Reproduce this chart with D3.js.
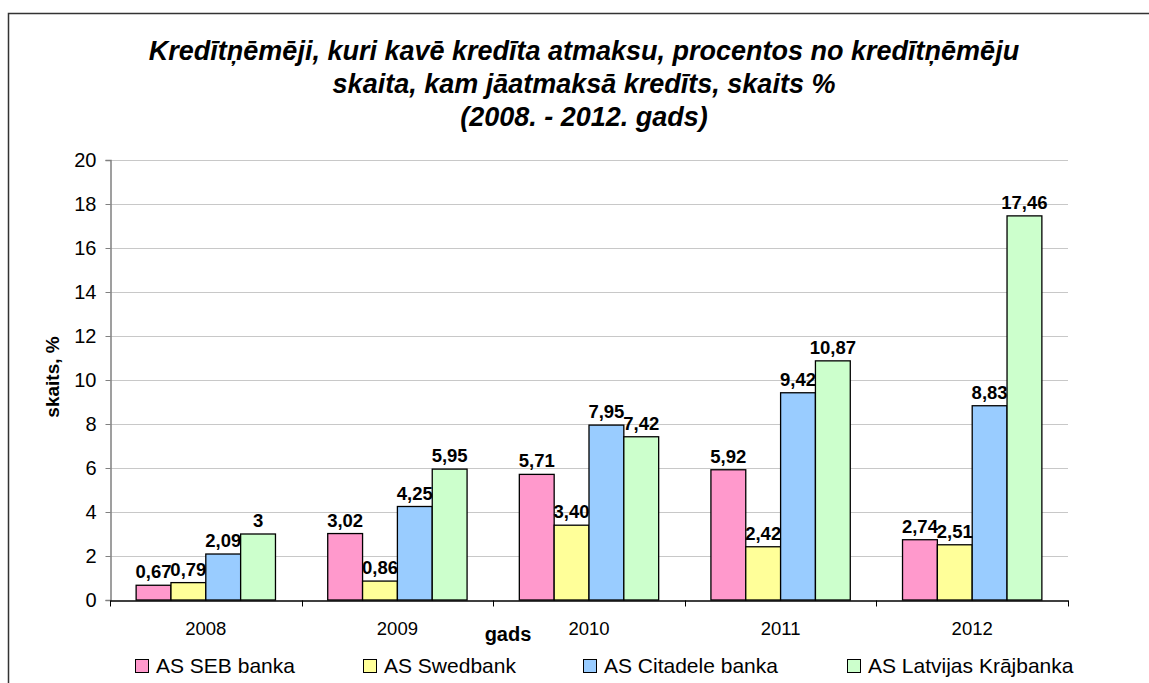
<!DOCTYPE html>
<html>
<head>
<meta charset="utf-8">
<script src="https://cdn.jsdelivr.net/npm/d3@7"></script>
<style>
  body { margin: 0; background: #fff; }
  svg { font-family: Arial, "Liberation Sans", sans-serif; }
</style>
</head>
<body>
<div id="chart"></div>
<script>
const years = ['2008', '2009', '2010', '2011', '2012'];
const banks = ['AS SEB banka', 'AS Swedbank', 'AS Citadele banka', 'AS Latvijas Krājbanka'];
const seb = [0.67, 3.02, 5.71, 5.92, 2.74];
const swedbank = [0.79, 0.86, 3.40, 2.42, 2.51];
const citadele = [2.09, 4.25, 7.95, 9.42, 8.83];
const krajbanka = [3, 5.95, 7.42, 10.87, 17.46];
const yTicks = [0, 2, 4, 6, 8, 10, 12, 14, 16, 18, 20];
const titleLines = [
    'Kredītņēmēji, kuri kavē kredīta atmaksu, procentos no kredītņēmēju',
    'skaita, kam jāatmaksā kredīts, skaits %',
    '(2008. - 2012. gads)'
];

const width = 1149;
const height = 683;
const margin = {top: 160, left: 110, right: 81, bottom: 83};
const colors = ['#ff99cc', '#ffff99', '#99ccff', '#ccffcc'];
const series = [seb, swedbank, citadele, krajbanka];

// label text as in the source: comma decimals, 3 stays "3"
const labelFmt = v => Number.isInteger(v) ? String(v) : d3.format('.2f')(v).replace('.', ',');

const svg = d3.select('#chart')
    .append('svg')
    .attr('width', width)
    .attr('height', height);

// outer frame (clipped at right and bottom)
svg.append('path')
    .attr('d', `M8.5,${height} V13.5 H${width}`)
    .attr('fill', 'none')
    .attr('stroke', '#333')
    .attr('stroke-width', 1.5);

const x0 = d3.scaleBand()
    .domain(years)
    .range([margin.left, width - margin.right])
    .paddingInner(0)
    .paddingOuter(0);

const x1 = d3.scaleBand()
    .domain(d3.range(banks.length))
    .range([0, x0.bandwidth()])
    .paddingOuter(0.75)
    .paddingInner(0);

const y = d3.scaleLinear()
    .domain([0, 20])
    .range([height - margin.bottom, margin.top]);

// gridlines
svg.append('g')
    .selectAll('line')
    .data(yTicks.filter(d => d > 0))
    .enter()
    .append('line')
    .attr('x1', margin.left)
    .attr('x2', width - margin.right)
    .attr('y1', d => Math.round(y(d)) + 0.5)
    .attr('y2', d => Math.round(y(d)) + 0.5)
    .attr('stroke', '#c8c8c8')
    .attr('stroke-width', 1);

// y axis
const yAxis = svg.append('g')
    .attr('transform', `translate(${margin.left + 0.5},0)`)
    .call(d3.axisLeft(y).tickValues(yTicks).tickSize(5).tickPadding(9));
yAxis.attr('font-size', 20);
yAxis.select('.domain').attr('stroke', '#808080').attr('stroke-width', 1.5);
yAxis.selectAll('.tick line').attr('stroke', '#808080');
yAxis.selectAll('text').attr('font-size', 20).attr('fill', '#000');

// bars
const groups = svg.append('g')
    .selectAll('g')
    .data(years)
    .enter()
    .append('g')
    .attr('transform', d => `translate(${x0(d)},0)`);

groups.selectAll('rect')
    .data((d, i) => series.map((s, k) => ({k: k, v: s[i]})))
    .enter()
    .append('rect')
    .attr('x', d => x1(d.k))
    .attr('width', x1.bandwidth())
    .attr('y', d => y(d.v))
    .attr('height', d => y(0) - y(d.v))
    .attr('fill', d => colors[d.k])
    .attr('stroke', '#000')
    .attr('stroke-width', 1.3);

groups.selectAll('text')
    .data((d, i) => series.map((s, k) => ({k: k, v: s[i]})))
    .enter()
    .append('text')
    .attr('x', d => x1(d.k) + x1.bandwidth() / 2)
    .attr('y', d => y(d.v) - 7)
    .attr('text-anchor', 'middle')
    .attr('font-size', 18.5)
    .attr('font-weight', 'bold')
    .text(d => labelFmt(d.v));

// x axis
const xAxis = svg.append('g')
    .attr('transform', `translate(0,${y(0) + 0.5})`)
    .call(d3.axisBottom(x0).tickSize(0).tickPadding(21));
xAxis.attr('font-size', 18.5);
xAxis.select('.domain').attr('stroke', '#000').attr('stroke-width', 1.3);
xAxis.selectAll('text').attr('font-size', 18.5).attr('fill', '#000');
xAxis.selectAll('line.sep')
    .data(years.map(d => x0(d)).concat([x0.range()[1]]))
    .enter()
    .append('line')
    .attr('class', 'sep')
    .attr('x1', d => Math.round(d) + 0.5)
    .attr('x2', d => Math.round(d) + 0.5)
    .attr('y1', 0)
    .attr('y2', 6)
    .attr('stroke', '#000');

// title
svg.append('text')
    .attr('text-anchor', 'middle')
    .attr('font-size', 27)
    .attr('font-weight', 'bold')
    .attr('font-style', 'italic')
    .selectAll('tspan')
    .data(titleLines)
    .enter()
    .append('tspan')
    .attr('x', 584)
    .attr('y', (d, i) => 60 + i * 33)
    .text(d => d);

// axis titles
svg.append('text')
    .attr('transform', 'translate(59,377) rotate(-90)')
    .attr('text-anchor', 'middle')
    .attr('font-size', 19)
    .attr('font-weight', 'bold')
    .text('skaits, %');

svg.append('text')
    .attr('x', 508)
    .attr('y', 641)
    .attr('text-anchor', 'middle')
    .attr('font-size', 20)
    .attr('font-weight', 'bold')
    .text('gads');

// legend
const legendX = [135, 363, 583, 847];
const legend = svg.append('g')
    .selectAll('g')
    .data(banks)
    .enter()
    .append('g')
    .attr('transform', (d, i) => `translate(${legendX[i]},659)`);

legend.append('rect')
    .attr('x', 0.5)
    .attr('y', 0.5)
    .attr('width', 13)
    .attr('height', 13)
    .attr('fill', (d, i) => colors[i])
    .attr('stroke', '#000');

legend.append('text')
    .attr('x', 21)
    .attr('y', 14)
    .attr('font-size', 21)
    .text(d => d);
</script>
</body>
</html>
